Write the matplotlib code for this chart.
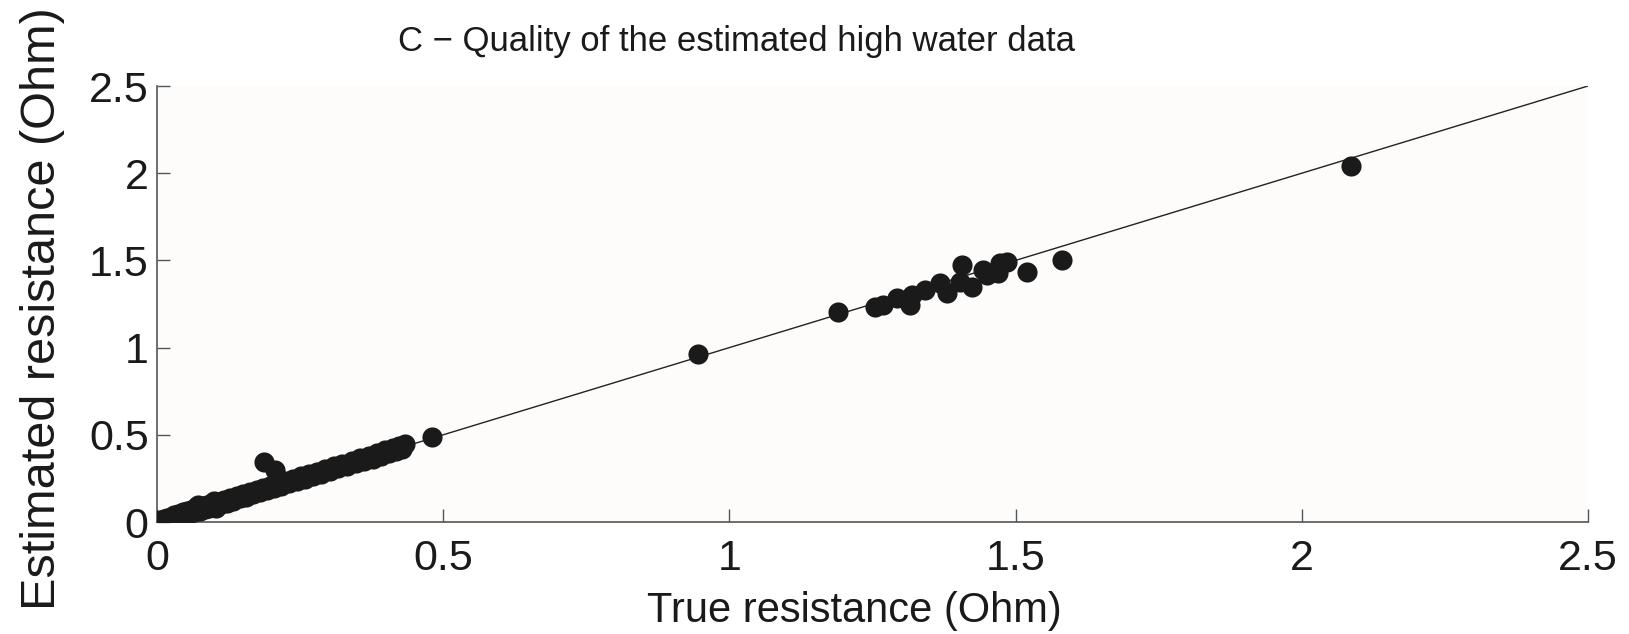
import numpy as np
import matplotlib
matplotlib.use('Agg')
import matplotlib.pyplot as plt

#######################################
#      data       #
#######################################

# dense band of small resistances
true_low = [0.001, 0.004, 0.006, 0.009, 0.012, 0.015, 0.018, 0.021, 0.024, 0.027,
            0.030, 0.034, 0.037, 0.041, 0.045, 0.049, 0.052, 0.056, 0.060, 0.064,
            0.068, 0.072, 0.075, 0.079, 0.083, 0.087, 0.091, 0.096, 0.100, 0.103,
            0.107, 0.112, 0.117, 0.122, 0.128, 0.133, 0.139, 0.145, 0.150, 0.156,
            0.162, 0.168, 0.174, 0.180, 0.186, 0.192, 0.198, 0.204, 0.211, 0.217,
            0.224, 0.230, 0.237, 0.244, 0.251, 0.258, 0.265, 0.272, 0.279, 0.287,
            0.294, 0.302, 0.309, 0.317, 0.324, 0.332, 0.340, 0.347, 0.355, 0.362,
            0.370, 0.378, 0.385, 0.392, 0.399, 0.406, 0.412, 0.418, 0.423, 0.428,
            0.433]
est_low = [0.004, 0.002, 0.010, 0.004, 0.018, 0.010, 0.024, 0.015, 0.030, 0.021,
           0.038, 0.028, 0.046, 0.033, 0.055, 0.041, 0.061, 0.047, 0.070, 0.055,
           0.084, 0.098, 0.064, 0.090, 0.074, 0.098, 0.081, 0.108, 0.121, 0.078,
           0.116, 0.101, 0.128, 0.111, 0.139, 0.122, 0.149, 0.135, 0.160, 0.146,
           0.172, 0.158, 0.184, 0.171, 0.196, 0.183, 0.208, 0.195, 0.221, 0.207,
           0.234, 0.221, 0.247, 0.234, 0.261, 0.248, 0.275, 0.262, 0.289, 0.277,
           0.304, 0.292, 0.319, 0.307, 0.334, 0.322, 0.350, 0.336, 0.366, 0.348,
           0.380, 0.362, 0.396, 0.376, 0.410, 0.394, 0.423, 0.406, 0.434, 0.418,
           0.448]

# isolated points and the high cluster
true_high = [0.187, 0.206, 0.480, 0.945, 1.190, 1.254, 1.268, 1.293, 1.319, 1.315,
             1.342, 1.368, 1.380, 1.406, 1.403, 1.424, 1.443, 1.450, 1.469, 1.485,
             1.473, 1.520, 1.581, 2.086]
est_high = [0.344, 0.298, 0.487, 0.963, 1.204, 1.233, 1.244, 1.284, 1.302, 1.244,
            1.330, 1.370, 1.313, 1.474, 1.376, 1.348, 1.445, 1.416, 1.428, 1.491,
            1.485, 1.433, 1.502, 2.041]

ticks = [0, 0.5, 1, 1.5, 2, 2.5]
tick_labels = ['0', '0.5', '1', '1.5', '2', '2.5']

true_r = np.array(true_low + true_high)
est_r = np.array(est_low + est_high)

#######################################
#      figure                         #
#######################################
plt.rcParams['font.family'] = ['Liberation Sans', 'DejaVu Sans']

fig = plt.figure(figsize=(16.29, 6.34), dpi=100)
ax = fig.add_axes([157/1629, 1-522/634, (1588-157)/1629, (522-86)/634])
ax.set_facecolor('#fdfcfa')

ax.plot([0, 2.5], [0, 2.5], color='#222222', lw=1.0, zorder=2)
ax.plot(true_r, est_r, 'o', color='#1a1a1a', markersize=14.5, markeredgewidth=0, zorder=3)

ax.set_xlim(0, 2.5)
ax.set_ylim(0, 2.5)
ax.set_xticks(ticks)
ax.set_xticklabels(tick_labels)
ax.set_yticks(ticks)
ax.set_yticklabels(tick_labels)

for s in ['top', 'right']:
    ax.spines[s].set_visible(False)
for s in ['left', 'bottom']:
    ax.spines[s].set_color('#555555')
    ax.spines[s].set_linewidth(1.2)

ax.tick_params(axis='both', direction='in', length=9.5, width=1.0, color='#555555',
               labelsize=31, labelcolor='#1a1a1a')
ax.tick_params(axis='x', pad=12)
ax.tick_params(axis='y', pad=6)

ax.set_xlabel('True resistance (Ohm)', fontsize=30, color='#1a1a1a')
ax.xaxis.set_label_coords(0.487, -0.158)
ax.set_ylabel('Estimated resistance (Ohm)', fontsize=35, color='#1a1a1a')
ax.yaxis.set_label_coords(-0.064, 0.49)

fig.text(737/1629, 1-51/634, 'C \u2212 Quality of the estimated high water data',
         fontsize=25, color='#1a1a1a', ha='center', va='baseline')

fig.savefig('out.png', dpi=100, facecolor='white')
